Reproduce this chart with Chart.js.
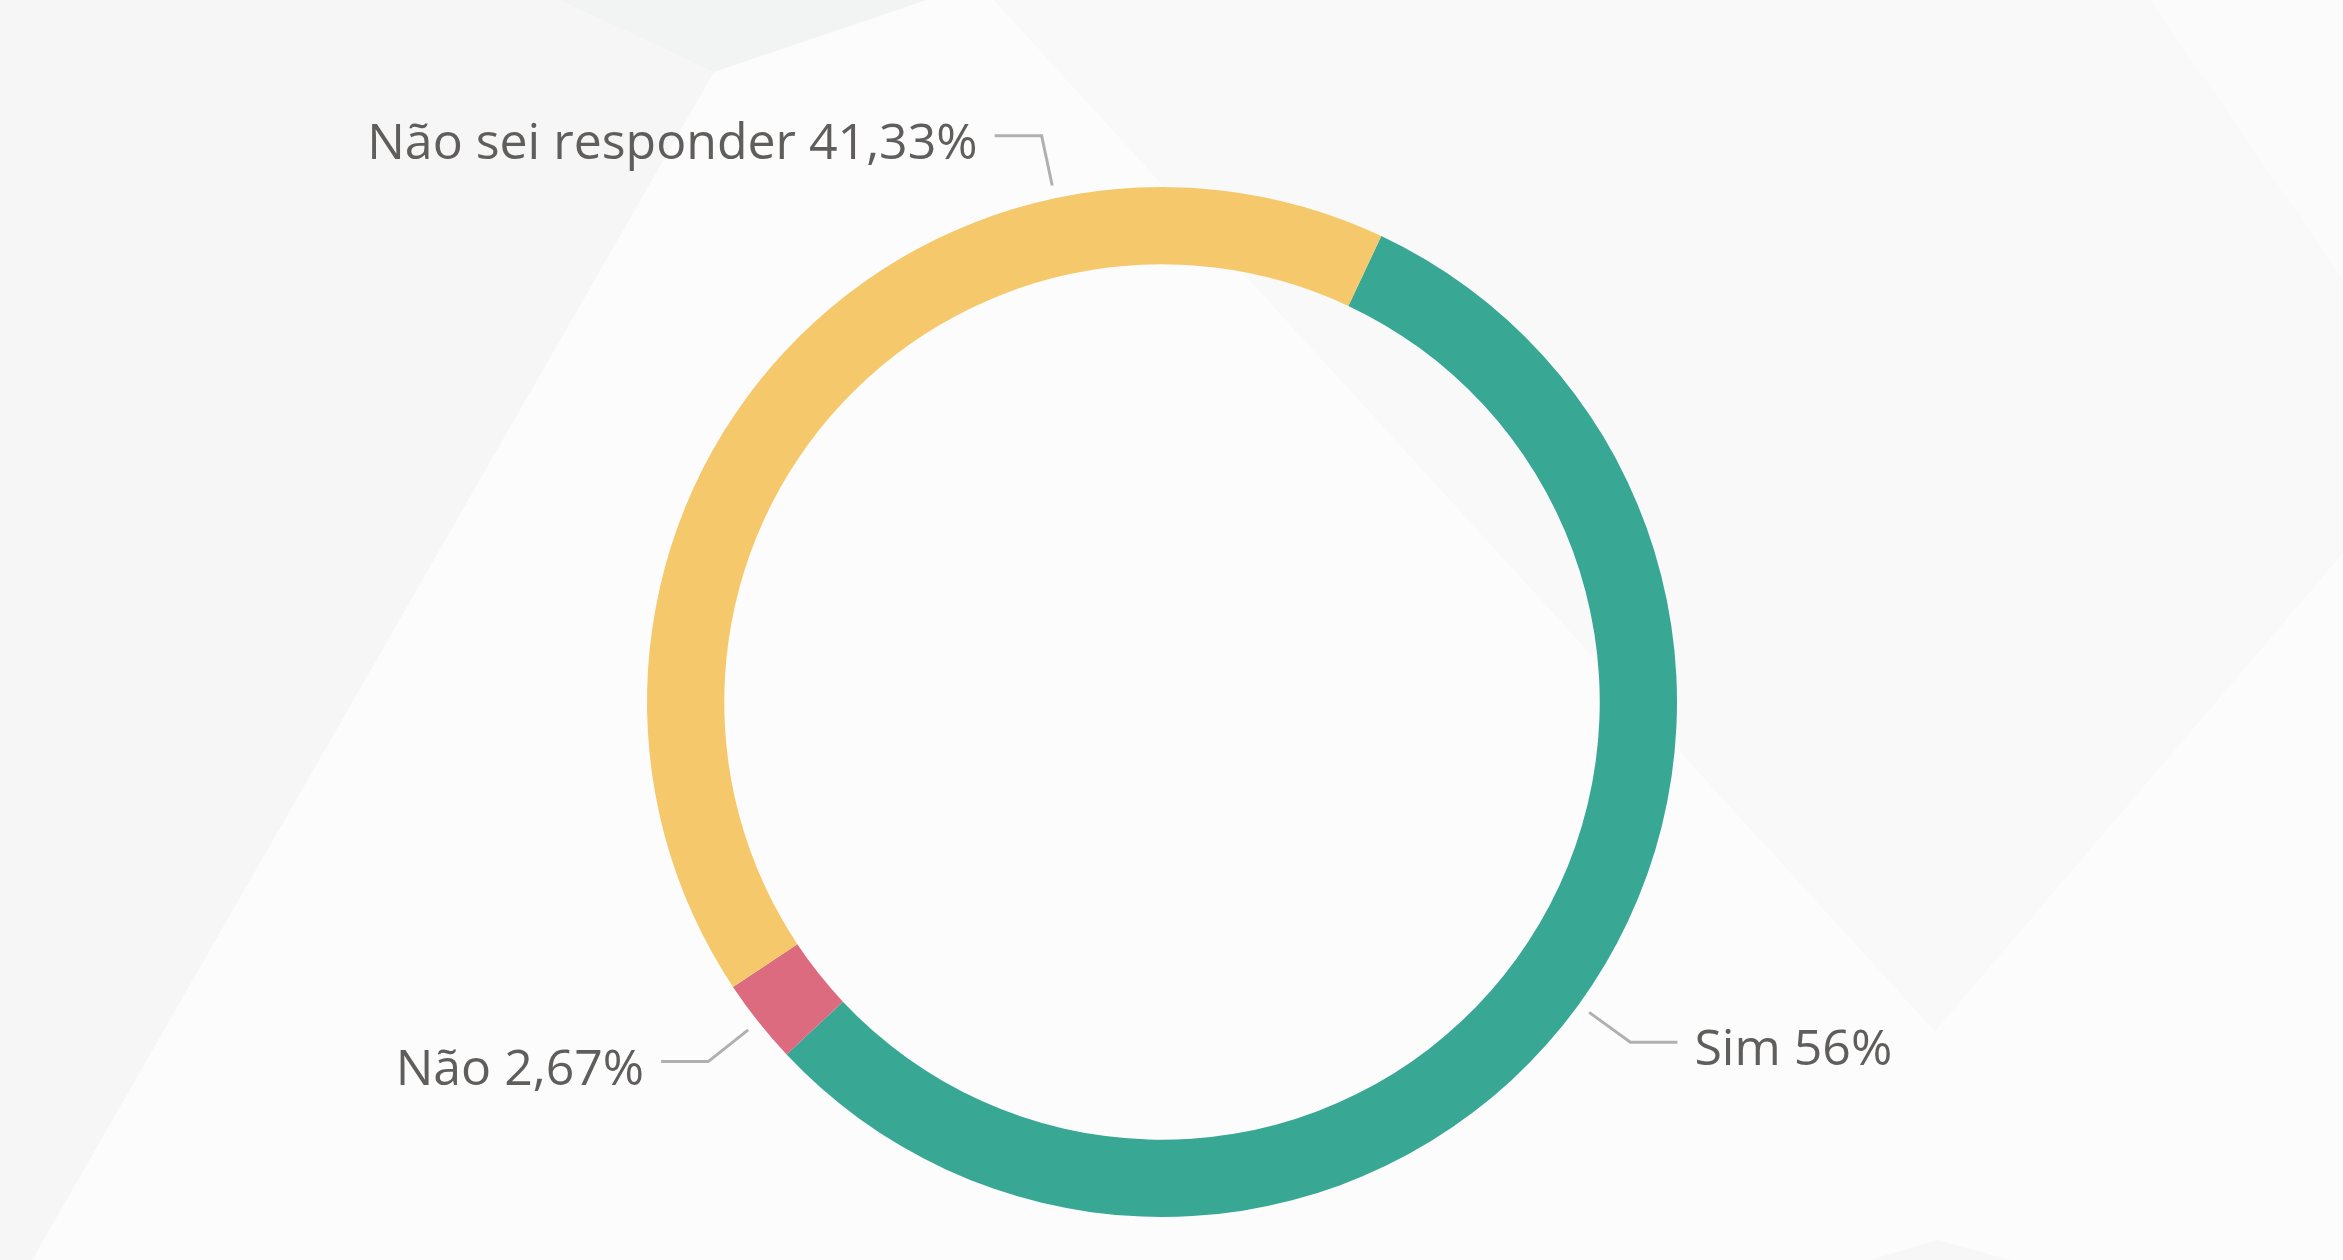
<!DOCTYPE html>
<html>
<head>
<meta charset="utf-8">
<script src="https://cdn.jsdelivr.net/npm/chart.js@4.4.1/dist/chart.umd.min.js"></script>
<style>
  html, body { margin: 0; padding: 0; background: #f6f6f6; }
  #wrap { position: relative; width: 2343px; height: 1260px; overflow: hidden; }
  #bg { position: absolute; left: 0; top: 0; }
  #chart { position: absolute; left: 0; top: 0; }
</style>
</head>
<body>
<div id="wrap">
  <svg id="bg" width="2343" height="1260" xmlns="http://www.w3.org/2000/svg">
    <rect width="2343" height="1260" fill="#f6f6f6"/>
    <polygon points="560,0 714,72 927,0" fill="#f2f4f3"/>
    <polygon points="714,72 927,0 994,0 1935,1031 1935,1260 32,1260" fill="#fcfcfc"/>
    <polygon points="994,0 2150,0 2343,280 2343,553 1935,1031" fill="#f9f9f9"/>
    <polygon points="2150,0 2343,0 2343,280" fill="#fbfbfb"/>
    <polygon points="1935,1031 2343,553 2343,1260 1935,1260" fill="#fcfcfc"/>
    <polygon points="1870,1260 1938,1240 2010,1260" fill="#f7f7f7"/>
  </svg>
  <canvas id="chart" width="2343" height="1260"></canvas>
</div>
<script>
// Survey answers (percent)
const labels = ['Sim', 'Não', 'Não sei responder'];
const values = [56, 2.67, 41.33];
const valueLabels = ['56%', '2,67%', '41,33%'];
const colors = ['#38a794', '#dd6b7f', '#f5c96b'];

// Leader lines + outside labels, anchored on the arcs Chart.js computed
const leaderLabels = {
    id: 'leaderLabels',
    afterDatasetsDraw(chart, args, opts) {
        const ctx = chart.ctx;
        const meta = chart.getDatasetMeta(0);
        ctx.save();
        ctx.font = opts.font;
        meta.data.forEach((arc, i) => {
            const p = arc.getProps(['x', 'y', 'startAngle', 'endAngle', 'outerRadius'], true);
            let a = (p.startAngle + p.endAngle) / 2;
            // labels near the top get pushed sideways, like the original
            if (opts.angleOverride[i] != null) {
                a = (opts.angleOverride[i] - 90) * Math.PI / 180;
            }
            const r0 = p.outerRadius + opts.offset;
            const sx = p.x + Math.cos(a) * r0;
            const sy = p.y + Math.sin(a) * r0;
            const ex = sx + Math.cos(a) * opts.elbow;
            const ey = sy + Math.sin(a) * opts.elbow;
            const right = Math.cos(a) >= 0;
            const hx = ex + (right ? opts.run : -opts.run);

            ctx.strokeStyle = opts.lineColor;
            ctx.lineWidth = 3;
            ctx.lineJoin = 'miter';
            ctx.beginPath();
            ctx.moveTo(sx, sy);
            ctx.lineTo(ex, ey);
            ctx.lineTo(hx, ey);
            ctx.stroke();

            ctx.fillStyle = opts.color;
            ctx.textBaseline = 'alphabetic';
            ctx.textAlign = right ? 'left' : 'right';
            const tx = hx + (right ? opts.gap : -opts.gap);
            ctx.fillText(labels[i] + ' ' + valueLabels[i], tx, ey + opts.baselineShift);
        });
        ctx.restore();
    }
};

new Chart(document.getElementById('chart'), {
    type: 'doughnut',
    data: {
        labels: labels,
        datasets: [{
            data: values,
            backgroundColor: colors,
            borderWidth: 0
        }]
    },
    options: {
        responsive: false,
        animation: false,
        rotation: 25.2,
        cutout: '85%',
        layout: {
            padding: { top: 187, bottom: 43, left: 0, right: 19 }
        },
        plugins: {
            legend: { display: false },
            tooltip: { enabled: false },
            leaderLabels: {
                font: '50px "Open Sans", "Noto Sans", sans-serif',
                color: '#605e5c',
                lineColor: '#b0b0b0',
                offset: 13,
                elbow: 51,
                run: 47,
                gap: 17,
                baselineShift: 23,
                angleOverride: { 2: 348 }
            }
        }
    },
    plugins: [leaderLabels]
});
</script>
</body>
</html>
